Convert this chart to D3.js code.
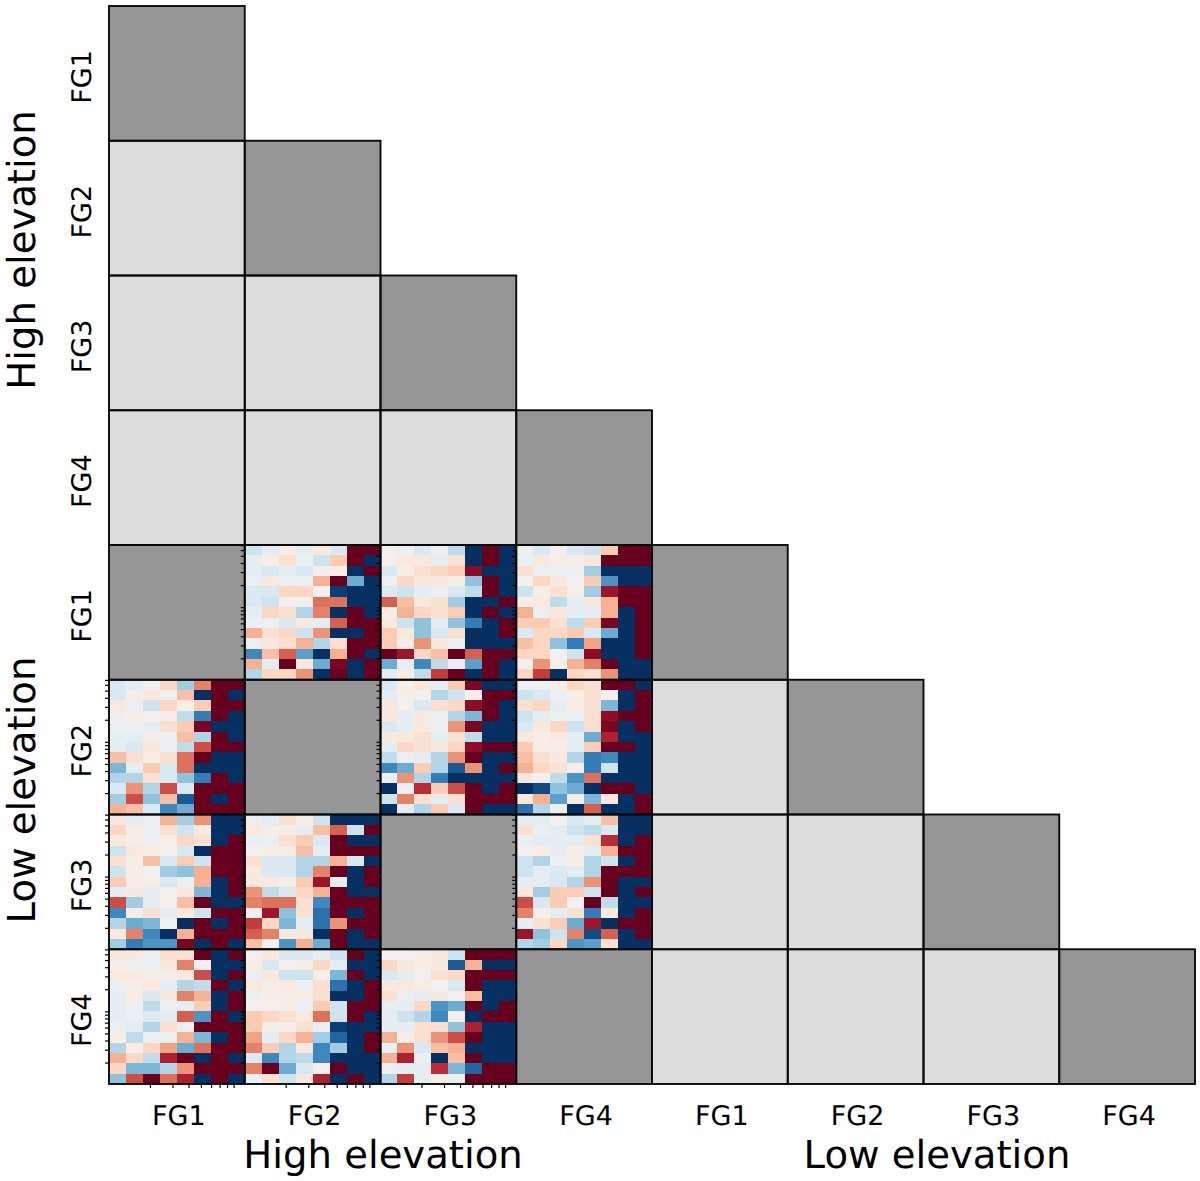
<!DOCTYPE html>
<html>
<head>
<meta charset="utf-8">
<script src="https://d3js.org/d3.v7.min.js"></script>
<style>
  body { margin: 0; background: #fff; }
  text { font-family: "DejaVu Sans"; fill: #000; text-rendering: geometricPrecision; }
</style>
</head>
<body>
<div id="chart"></div>
<script>
  // tick labels and group names
  var groups = ["FG1", "FG2", "FG3", "FG4", "FG1", "FG2", "FG3", "FG4"];
  var elevations = ["High elevation", "Low elevation"];
  var minorX = [2, 3, 4, 5, 6, 7, 8, 9];
  var minorY = [2, 3, 4, 5, 6, 7, 8, 9, 10, 20, 30, 40, 50, 60, 70];

  // values are on a -10 (dark blue) .. 10 (dark red) scale
  var lowFG1_highFG2 = [
    [-2,-1,0.5,-1,1,-1.5,10,10],
    [-1,0.5,1.5,-0.5,-2,2.5,10,-10],
    [-1,-1.5,-1,-1.5,0,0.5,-10,10],
    [-0.5,1,-0.5,-0.5,3.5,10,-5,-10],
    [-1.5,-1.5,2,2,0,-9.5,-10,-10],
    [-1.5,-2,0,0,5.5,5.5,-10,-10],
    [-1,2,1.5,-3,5,-10,10,-10],
    [-0.5,-0.5,-1.5,1,-1,6,10,10],
    [3.5,1.5,2,-2,4.5,-10,-10,10],
    [-0.5,1,1.5,3.5,-3,1.5,10,10],
    [-6.5,3,6,-5.5,-10,3.5,10,-10],
    [3.5,-1,10,1,-5,9.5,-10,10],
    [-3,2,2,4.5,-10,10,-10,10]
  ];
  var lowFG1_highFG3 = [
    [0,-0.5,-1.5,-0.5,-2.5,-10,10,-10],
    [0,1,1,-1,1.5,-10,10,-10],
    [-1.5,0.5,1.5,2,2.5,9,-10,-10],
    [-0.5,2,1,1,0.5,-4,10,-10],
    [-1.5,-2,-1,-0.5,-1.5,-2.5,10,-10],
    [6,3,1,1.5,-3.5,-10,-10,10],
    [0.5,3.5,2,1.5,2.5,-10,10,-10],
    [1,-2,-4,-1,-4,-7,-10,10],
    [2.5,1,-4,-1.5,1.5,-10,-10,10],
    [2.5,0.5,4.5,1,-0.5,-10,-10,-10],
    [10,8.5,2,3,10,6,10,10],
    [-5,-1,-6.5,-2.5,-0.5,-5.5,10,-10],
    [-1,0.5,-2.5,7,10,-10,10,-10]
  ];
  var lowFG1_highFG4 = [
    [-0.5,-1.5,0,-1.5,-2,2.5,10,10],
    [-0.5,1,0.5,0.5,1,10,10,10],
    [1.5,-0.5,-0.5,-0.5,-3.5,-10,-10,-10],
    [0,2,1,0,2.5,-6,-10,-10],
    [-2,0.5,1.5,0.5,-3.5,8.5,10,10],
    [0.5,1,-2.5,-1,1,3.5,10,10],
    [3.5,-0.5,1,-1,-1,3.5,-10,10],
    [2.5,2.5,1.5,-2.5,2.5,9.5,-10,10],
    [-1.5,2,2,2.5,-1.5,-5,-10,10],
    [3,2,-4,-7,4,-10,-10,10],
    [2,2,0,-2,9,-10,-10,10],
    [0,4.5,0.5,3.5,5,10,-10,-10],
    [2,7,-10,2,1.5,4.5,-10,-10]
  ];
  var lowFG2_highFG1 = [
    [-1.5,-1,0,2,-3.5,5,10,10],
    [-1.5,0.5,1,-0.5,3,-10,10,-10],
    [1,-0.5,-2,2,0.5,2.5,10,10],
    [-0.5,0.5,0,0.5,-2.5,-7,10,-10],
    [-0.5,-0.5,-1,1.5,2.5,9.5,-10,-10],
    [-1,-1,0.5,-0.5,3,-3,10,-10],
    [-1,-1.5,1,-0.5,-2.5,6.5,10,10],
    [3,1.5,0.5,1.5,5.5,10,-10,-10],
    [-4.5,-1,2.5,-1.5,5.5,-10,-10,-10],
    [-3,-3,1.5,-1.5,-4,-7,10,-10],
    [-1.5,4.5,-3,6.5,-1.5,10,10,10],
    [-3.5,6.5,-4,3,-8.5,10,-10,10],
    [3.5,3,-1.5,-6.5,-5,10,10,10]
  ];
  var lowFG2_highFG3 = [
    [-1.5,0.5,1,-1,2.5,9.5,-10,-10],
    [-1,0.5,0,-3,-2,0,10,10],
    [1,0,-1.5,1.5,2,9,10,-10],
    [1,-1,1,-0.5,-3,-4.5,10,-10],
    [-1.5,-1,1,-0.5,4.5,9.5,-10,-10],
    [1,1,1.5,-1,1.5,-2.5,-10,-10],
    [-1,2,1.5,1,2,9,10,10],
    [-2.5,-0.5,-1,-3,4.5,10,-10,-10],
    [-6.5,-5,2.5,-3,-8.5,4.5,-10,10],
    [-0.5,4.5,-3,-7,-10,-10,-10,-10],
    [-10,-0.5,7.5,2.5,6.5,10,-10,10],
    [-2,5,1.5,-1,1.5,10,10,10],
    [-10,-1,-3,2.5,-1.5,10,-10,-10]
  ];
  var lowFG2_highFG4 = [
    [-0.5,-0.5,0.5,2,1.5,10,10,-10],
    [-2,-1.5,-0.5,0.5,1.5,0,-10,10],
    [1.5,2,-1,0.5,1.5,-4.5,-10,10],
    [-2,-1,-0.5,-0.5,1.5,9,10,10],
    [-1.5,1,2,-2,1.5,9.5,-10,10],
    [1,0.5,1,-1,-5,8,-10,-10],
    [2.5,0.5,0.5,-1,2.5,10,10,-10],
    [3,1.5,1,-3,-7,-6.5,-10,-10],
    [3.5,2,1.5,0,-7,-2,-10,-10],
    [1,0,-2.5,-6,5.5,-10,-10,-10],
    [-10,-9,-4,-5,-10,10,10,-10],
    [1,3.5,-5.5,0.5,-4.5,1,-10,10],
    [-7.5,-3,-0.5,-10,6,-10,-10,10]
  ];
  var lowFG3_highFG1 = [
    [1,-1,-0.5,3.5,-3.5,4.5,-10,-10],
    [2,0.5,-0.5,1.5,-2,1,-10,-10],
    [1,0.5,-0.5,0.5,2,1.5,-10,10],
    [-2,1,0.5,0,-1.5,-10,10,10],
    [1.5,0.5,3,-1.5,2.5,-2,10,10],
    [-2,0.5,0,-3.5,-4,3.5,10,10],
    [2.5,0.5,0.5,-1.5,-0.5,3.5,-10,10],
    [-1,1,-1,0,1,-4.5,-10,10],
    [6.5,-3.5,-1,0,3,10,-10,-10],
    [-6.5,0.5,1.5,-1,1,-2,10,10],
    [-3,-5,-4.5,0,-10,10,-10,10],
    [1,5,-6.5,-10,3.5,10,10,10],
    [-3.5,-7,-6,-6,9.5,-10,10,-10]
  ];
  var lowFG3_highFG2 = [
    [-0.5,-1,1.5,0.5,-2,-10,-10,-10],
    [1,0.5,0.5,-1,3,6,-2,10],
    [-0.5,-0.5,1.5,2.5,-1.5,10,-10,-10],
    [0,0.5,0.5,3,-1,10,10,10],
    [1.5,-1.5,-1.5,-3,-3,3.5,-1.5,-10],
    [1,-1.5,-1.5,-3,5,10,-10,10],
    [1,1,0.5,2.5,8.5,-1,-10,10],
    [4.5,-2.5,-1.5,2,3.5,10,-10,-10],
    [5,5.5,5.5,1.5,-6.5,10,10,10],
    [0,8.5,-4,1.5,-7.5,10,-10,10],
    [7,2,-4.5,-1,-7.5,4.5,10,10],
    [6,5,1,1,-10,10,-10,10],
    [3,0,-6,3.5,-5,10,-10,-10]
  ];
  var lowFG3_highFG4 = [
    [-1,-1,0,-1.5,-1,3,-10,-10],
    [1.5,-0.5,-1,-2,-2.5,-1.5,-10,-10],
    [-0.5,-1,-1,-1,1.5,7.5,-10,10],
    [0,0.5,-1,0.5,-1,3.5,10,10],
    [-2,-3,-0.5,0.5,-3,-2,-10,10],
    [-2,-1,-1.5,-1,-3,10,10,10],
    [-1,-1,-1.5,-3,4.5,10,-10,-10],
    [1,-3.5,2.5,2.5,-2,10,-10,10],
    [6.5,-1.5,2.5,0,10,-2.5,-10,-10],
    [5,0.5,-1,1.5,-7,1,-10,10],
    [-1,1.5,2.5,-5,8.5,-10,10,10],
    [8.5,-4,-2,5,-9,6,-10,10],
    [-3,-3.5,2,-6,-5.5,1.5,-10,-10]
  ];
  var lowFG4_highFG1 = [
    [1,1,-0.5,1.5,1.5,10,-10,10],
    [0.5,-0.5,-0.5,1,5,0,-10,-10],
    [1,1,0.5,0.5,1,6.5,-10,10],
    [-0.5,0.5,1,-1,-3,-2.5,10,-10],
    [-1,0.5,-1.5,1,5,3.5,-10,10],
    [-1,-0.5,-2.5,-0.5,-1,2.5,-10,10],
    [-1,-0.5,-1.5,-1,6,-6,10,-10],
    [-0.5,-1,-3,1.5,-0.5,10,10,10],
    [0.5,-2.5,-0.5,-0.5,3.5,-4.5,-10,10],
    [-3,0.5,2,4,-5,5.5,10,10],
    [3.5,2,-2.5,8,10,-10,10,-10],
    [2,-4.5,-4.5,-3,4.5,10,10,10],
    [-4,6.5,10,5.5,8,-10,10,-10]
  ];
  var lowFG4_highFG2 = [
    [0,1,-1.5,-1.5,-1,-2,10,-10],
    [0.5,-1.5,0,0.5,2,-1,-10,-10],
    [-0.5,1,-2,-2,0.5,-4.5,10,-10],
    [1,0.5,1,-0.5,1.5,-7.5,-10,10],
    [-0.5,0.5,0.5,0.5,1.5,-10,-10,10],
    [0,0,0.5,-0.5,2.5,-2,10,10],
    [2.5,2,1.5,1,5.5,-2,10,-10],
    [2.5,0.5,0.5,1.5,-0.5,-9.5,-10,-10],
    [4,-1,2,3.5,-3.5,-8,-10,10],
    [5,2.5,-3,1,-6.5,-3.5,-10,10],
    [-1.5,-6.5,-3,-2.5,-6.5,-10,-10,-10],
    [5,10,-5,-1.5,0,10,-10,-10],
    [-0.5,1.5,-2,1,8,-10,10,-10]
  ];
  var lowFG4_highFG3 = [
    [0,0,0.5,1,-2,10,10,10],
    [2,1,0.5,1,-8.5,3.5,-10,-10],
    [-1.5,-1,0,1.5,2,10,10,10],
    [1,1,0.5,0,-1.5,10,-10,-10],
    [1.5,-0.5,-1,1,0,3,-10,-10],
    [-1,-1,2,-6,-5,10,-10,10],
    [-1,-2,-3,-6.5,0.5,-10,10,10],
    [-1,-1,1.5,1.5,-4,8,-10,-10],
    [3.5,0.5,1.5,4.5,6.5,10,-10,-10],
    [-0.5,4.5,-1.5,3,3.5,-10,-10,-10],
    [3.5,8,-0.5,-10,3,10,-10,-10],
    [-0.5,-1,-1,7.5,-4.5,-8,10,10],
    [-3,7,-1,0.5,-0.5,10,10,10]
  ];

  // row in the low elevation block -> column in the high elevation block
  var heatmaps = [
    { row: 4, col: 1, values: lowFG1_highFG2 },
    { row: 4, col: 2, values: lowFG1_highFG3 },
    { row: 4, col: 3, values: lowFG1_highFG4 },
    { row: 5, col: 0, values: lowFG2_highFG1 },
    { row: 5, col: 2, values: lowFG2_highFG3 },
    { row: 5, col: 3, values: lowFG2_highFG4 },
    { row: 6, col: 0, values: lowFG3_highFG1 },
    { row: 6, col: 1, values: lowFG3_highFG2 },
    { row: 6, col: 3, values: lowFG3_highFG4 },
    { row: 7, col: 0, values: lowFG4_highFG1 },
    { row: 7, col: 1, values: lowFG4_highFG2 },
    { row: 7, col: 2, values: lowFG4_highFG3 }
  ];

  var width = 1200, height = 1181;
  var idx = d3.range(8);

  var svg = d3.select("#chart").append("svg")
    .attr("width", width)
    .attr("height", height)
    .style("display", "block");

  var x = d3.scaleBand().domain(idx).range([109, 1195]);
  var y = d3.scaleBand().domain(idx).range([6, 1084]);

  var color = d3.scaleSequential(d3.interpolateRdBu).domain([10, -10]);

  var cellX = d3.scaleBand().domain(d3.range(8)).range([0, x.bandwidth()]);
  var cellY = d3.scaleBand().domain(d3.range(13)).range([0, y.bandwidth()]);
  var tickX = d3.scaleLog().domain([0.957, 11]).range([0, x.bandwidth()]);
  var tickY = d3.scaleLog().domain([1.02, 70.3]).range([y.bandwidth(), 0]);

  // lower triangle of panels, the diagonals are darker
  var panels = [];
  idx.forEach(function(r) {
    idx.filter(function(c) { return c <= r; }).forEach(function(c) {
      panels.push({ row: r, col: c });
    });
  });
  function isDark(d) {
    return d.row === d.col || d.row - d.col === 4;
  }

  var panel = svg.selectAll("g.panel")
    .data(panels)
    .join("g")
    .attr("class", "panel")
    .attr("transform", function(d) { return "translate(" + x(d.col) + "," + y(d.row) + ")"; });

  panel.append("rect")
    .attr("width", x.bandwidth())
    .attr("height", y.bandwidth())
    .attr("fill", function(d) { return isDark(d) ? "#969696" : "#dcdcdc"; });

  // heatmap panels
  var maps = svg.selectAll("g.map")
    .data(heatmaps)
    .join("g")
    .attr("class", "map")
    .attr("transform", function(d) { return "translate(" + x(d.col) + "," + y(d.row) + ")"; });

  maps.each(function(d) {
    var g = d3.select(this);
    d.values.forEach(function(line, r) {
      g.selectAll("rect.r" + r)
        .data(line)
        .join("rect")
        .attr("class", "r" + r)
        .attr("x", function(v, c) { return cellX(c); })
        .attr("y", cellY(r))
        .attr("width", cellX.bandwidth())
        .attr("height", cellY.bandwidth())
        .attr("shape-rendering", "crispEdges")
        .attr("fill", function(v) { return color(v); });
    });
  });

  // frames go on top of the cells
  svg.selectAll("rect.frame")
    .data(panels)
    .join("rect")
    .attr("class", "frame")
    .attr("x", function(d) { return x(d.col); })
    .attr("y", function(d) { return y(d.row); })
    .attr("width", x.bandwidth())
    .attr("height", y.bandwidth())
    .attr("fill", "none")
    .attr("stroke", "#0a0a0a")
    .attr("stroke-width", 1.9);

  // the log ticks left of every heatmap, and under the bottom row
  maps.each(function(d) {
    d3.select(this).append("g")
      .attr("class", "ticks")
      .call(d3.axisLeft(tickY).tickValues(minorY).tickSize(4).tickFormat(""))
      .call(function(a) { a.select(".domain").remove(); })
      .selectAll("line").attr("stroke-width", 1.2);
  });
  maps.filter(function(d) { return d.row === 7; }).each(function() {
    d3.select(this).append("g")
      .attr("class", "ticks")
      .attr("transform", "translate(0," + y.bandwidth() + ")")
      .call(d3.axisBottom(tickX).tickValues(minorX).tickSize(4).tickFormat(""))
      .call(function(a) { a.select(".domain").remove(); })
      .selectAll("line").attr("stroke-width", 1.2);
  });

  // group names
  svg.selectAll("text.xname")
    .data(groups)
    .join("text")
    .attr("class", "xname")
    .attr("x", function(d, i) { return x(i) + x.bandwidth() / 2 + 2; })
    .attr("y", 1125)
    .attr("text-anchor", "middle")
    .attr("font-size", 27)
    .text(function(d) { return d; });

  svg.selectAll("text.yname")
    .data(groups)
    .join("text")
    .attr("class", "yname")
    .attr("text-anchor", "middle")
    .attr("font-size", 27)
    .attr("transform", function(d, i) {
      return "translate(91," + (y(i) + y.bandwidth() / 2 + 3.5) + ") rotate(-90)";
    })
    .text(function(d) { return d; });

  // block titles
  svg.selectAll("text.xtitle")
    .data(elevations)
    .join("text")
    .attr("class", "xtitle")
    .attr("x", function(d, i) { return i === 0 ? 383 : 937; })
    .attr("y", 1168)
    .attr("text-anchor", "middle")
    .attr("font-size", 38.6)
    .text(function(d) { return d; });

  svg.selectAll("text.ytitle")
    .data(elevations)
    .join("text")
    .attr("class", "ytitle")
    .attr("text-anchor", "middle")
    .attr("font-size", 38.6)
    .attr("transform", function(d, i) {
      return "translate(34.5," + (i === 0 ? 250 : 790) + ") rotate(-90)";
    })
    .text(function(d) { return d; });
</script>
</body>
</html>
